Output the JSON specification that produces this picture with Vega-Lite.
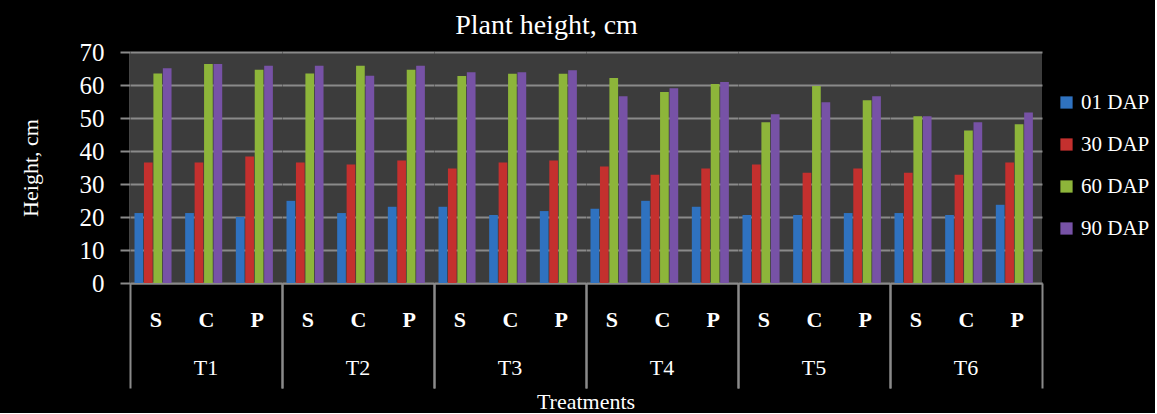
{
  "$schema": "https://vega.github.io/schema/vega-lite/v6.json",
  "background": "black",
  "padding": {"left": 19, "top": 12, "right": 5, "bottom": 0},
  "title": {"text": "Plant height,  cm", "anchor": "middle", "font": "Liberation Serif", "fontSize": 28, "fontWeight": "normal", "color": "white", "offset": 0, "dx": -38},
  "data": {"values": [
    {"T":"T1","V":"S","DAP":"01 DAP","h":21.2},{"T":"T1","V":"S","DAP":"30 DAP","h":36.5},{"T":"T1","V":"S","DAP":"60 DAP","h":63.5},{"T":"T1","V":"S","DAP":"90 DAP","h":65.1},
    {"T":"T1","V":"C","DAP":"01 DAP","h":21.2},{"T":"T1","V":"C","DAP":"30 DAP","h":36.5},{"T":"T1","V":"C","DAP":"60 DAP","h":66.4},{"T":"T1","V":"C","DAP":"90 DAP","h":66.4},
    {"T":"T1","V":"P","DAP":"01 DAP","h":20.0},{"T":"T1","V":"P","DAP":"30 DAP","h":38.3},{"T":"T1","V":"P","DAP":"60 DAP","h":64.6},{"T":"T1","V":"P","DAP":"90 DAP","h":65.8},
    {"T":"T2","V":"S","DAP":"01 DAP","h":24.9},{"T":"T2","V":"S","DAP":"30 DAP","h":36.5},{"T":"T2","V":"S","DAP":"60 DAP","h":63.5},{"T":"T2","V":"S","DAP":"90 DAP","h":65.8},
    {"T":"T2","V":"C","DAP":"01 DAP","h":21.2},{"T":"T2","V":"C","DAP":"30 DAP","h":35.9},{"T":"T2","V":"C","DAP":"60 DAP","h":65.8},{"T":"T2","V":"C","DAP":"90 DAP","h":62.8},
    {"T":"T2","V":"P","DAP":"01 DAP","h":23.1},{"T":"T2","V":"P","DAP":"30 DAP","h":37.1},{"T":"T2","V":"P","DAP":"60 DAP","h":64.6},{"T":"T2","V":"P","DAP":"90 DAP","h":65.8},
    {"T":"T3","V":"S","DAP":"01 DAP","h":23.1},{"T":"T3","V":"S","DAP":"30 DAP","h":34.7},{"T":"T3","V":"S","DAP":"60 DAP","h":62.7},{"T":"T3","V":"S","DAP":"90 DAP","h":63.9},
    {"T":"T3","V":"C","DAP":"01 DAP","h":20.6},{"T":"T3","V":"C","DAP":"30 DAP","h":36.5},{"T":"T3","V":"C","DAP":"60 DAP","h":63.4},{"T":"T3","V":"C","DAP":"90 DAP","h":63.9},
    {"T":"T3","V":"P","DAP":"01 DAP","h":21.8},{"T":"T3","V":"P","DAP":"30 DAP","h":37.1},{"T":"T3","V":"P","DAP":"60 DAP","h":63.4},{"T":"T3","V":"P","DAP":"90 DAP","h":64.5},
    {"T":"T4","V":"S","DAP":"01 DAP","h":22.5},{"T":"T4","V":"S","DAP":"30 DAP","h":35.3},{"T":"T4","V":"S","DAP":"60 DAP","h":62.1},{"T":"T4","V":"S","DAP":"90 DAP","h":56.6},
    {"T":"T4","V":"C","DAP":"01 DAP","h":24.9},{"T":"T4","V":"C","DAP":"30 DAP","h":32.8},{"T":"T4","V":"C","DAP":"60 DAP","h":57.9},{"T":"T4","V":"C","DAP":"90 DAP","h":59.0},
    {"T":"T4","V":"P","DAP":"01 DAP","h":23.1},{"T":"T4","V":"P","DAP":"30 DAP","h":34.7},{"T":"T4","V":"P","DAP":"60 DAP","h":60.3},{"T":"T4","V":"P","DAP":"90 DAP","h":60.9},
    {"T":"T5","V":"S","DAP":"01 DAP","h":20.6},{"T":"T5","V":"S","DAP":"30 DAP","h":35.9},{"T":"T5","V":"S","DAP":"60 DAP","h":48.7},{"T":"T5","V":"S","DAP":"90 DAP","h":51.1},
    {"T":"T5","V":"C","DAP":"01 DAP","h":20.6},{"T":"T5","V":"C","DAP":"30 DAP","h":33.4},{"T":"T5","V":"C","DAP":"60 DAP","h":59.7},{"T":"T5","V":"C","DAP":"90 DAP","h":54.8},
    {"T":"T5","V":"P","DAP":"01 DAP","h":21.2},{"T":"T5","V":"P","DAP":"30 DAP","h":34.7},{"T":"T5","V":"P","DAP":"60 DAP","h":55.4},{"T":"T5","V":"P","DAP":"90 DAP","h":56.6},
    {"T":"T6","V":"S","DAP":"01 DAP","h":21.2},{"T":"T6","V":"S","DAP":"30 DAP","h":33.4},{"T":"T6","V":"S","DAP":"60 DAP","h":50.5},{"T":"T6","V":"S","DAP":"90 DAP","h":50.5},
    {"T":"T6","V":"C","DAP":"01 DAP","h":20.6},{"T":"T6","V":"C","DAP":"30 DAP","h":32.8},{"T":"T6","V":"C","DAP":"60 DAP","h":46.2},{"T":"T6","V":"C","DAP":"90 DAP","h":48.7},
    {"T":"T6","V":"P","DAP":"01 DAP","h":23.7},{"T":"T6","V":"P","DAP":"30 DAP","h":36.5},{"T":"T6","V":"P","DAP":"60 DAP","h":48.1},{"T":"T6","V":"P","DAP":"90 DAP","h":51.7}
  ]},
  "facet": {
    "column": {
      "field": "T", "type": "nominal", "title": "Treatments",
      "header": {
        "labelOrient": "bottom", "titleOrient": "bottom",
        "labelFont": "Liberation Serif", "labelFontSize": 22, "labelColor": "white", "labelPadding": -31,
        "titleFont": "Liberation Serif", "titleFontSize": 22, "titleFontWeight": "normal", "titleColor": "white", "titlePadding": -7
      }
    }
  },
  "spacing": 0,
  "spec": {
    "width": 152,
    "height": 231,
    "mark": {"type": "bar"},
    "encoding": {
      "x": {
        "field": "V", "type": "nominal", "sort": ["S", "C", "P"],
        "scale": {"paddingInner": 0, "paddingOuter": 0},
        "axis": {
          "title": null, "labelAngle": 0,
          "labelFont": "Liberation Serif", "labelFontSize": 22, "labelFontWeight": "bold", "labelColor": "white",
          "domainColor": "#8a8a8a", "domainWidth": 2,
          "tickBand": "extent", "tickSize": 105, "tickColor": "#8a8a8a", "tickWidth": 2,
          "tickOpacity": {"condition": {"test": "datum.value === 'P' || datum.extra", "value": 1}, "value": 0},
          "labelPadding": -79
        }
      },
      "xOffset": {
        "field": "DAP", "type": "nominal",
        "scale": {"paddingInner": 0.08, "paddingOuter": 0.72, "align": 0.33}
      },
      "y": {
        "field": "h", "type": "quantitative",
        "scale": {"domain": [0, 70]},
        "axis": {
          "values": [0, 10, 20, 30, 40, 50, 60, 70],
          "title": "Height, cm", "titleFont": "Liberation Serif", "titleFontSize": 22, "titleFontWeight": "normal", "titleColor": "white", "titlePadding": 37,
          "labelFont": "Liberation Serif", "labelFontSize": 25, "labelColor": "white", "labelPadding": 16,
          "tickSize": 10, "tickColor": "#8a8a8a", "tickWidth": 2,
          "domainColor": "#8a8a8a", "domainWidth": 2,
          "gridColor": "#8a8a8a", "gridWidth": 2
        }
      },
      "color": {
        "field": "DAP", "type": "nominal",
        "scale": {"range": ["#2F72C0", "#C4302E", "#8DB53A", "#7752A6"]},
        "legend": {
          "title": null, "orient": "none", "legendX": 926, "legendY": 40,
          "symbolType": "square", "symbolSize": 150, "symbolStrokeWidth": 0,
          "labelFont": "Liberation Serif", "labelFontSize": 21, "labelColor": "white",
          "rowPadding": 20, "labelOffset": 4
        }
      }
    }
  },
  "config": {
    "view": {"stroke": null, "fill": "#3c3c3c"}
  }
}
